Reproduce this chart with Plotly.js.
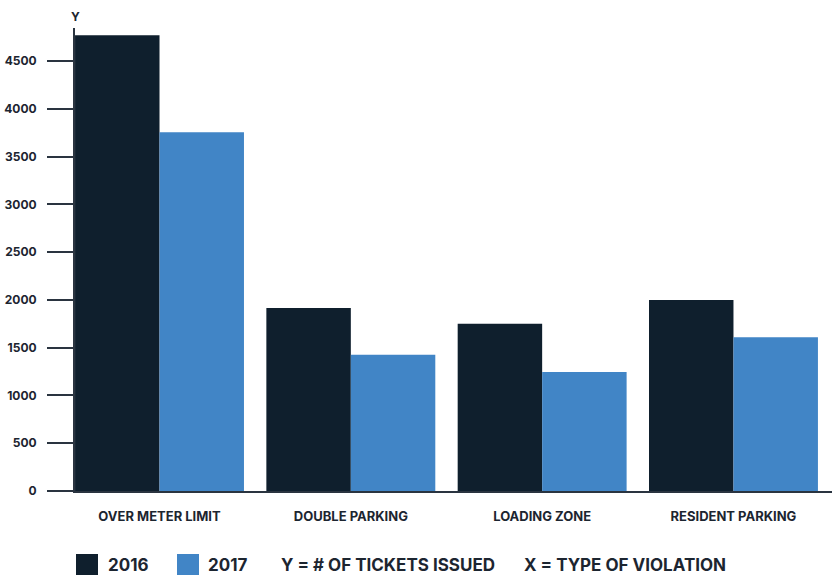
<!DOCTYPE html>
<html>
<head>
<meta charset="utf-8">
<script src="https://cdn.plot.ly/plotly-3.0.1.min.js"></script>
<style>html,body{margin:0;padding:0;background:#fff;}#chart{width:840px;height:575px;}</style>
</head>
<body>
<div id="chart"></div>
<script>
const categories = ["OVER METER LIMIT", "DOUBLE PARKING", "LOADING ZONE", "RESIDENT PARKING"];
const values2016 = [4770, 1915, 1750, 2000];
const values2017 = [3755, 1425, 1245, 1610];
const seriesNames = ["2016", "2017"];
const yTicks = [0, 500, 1000, 1500, 2000, 2500, 3000, 3500, 4000, 4500];
const yTitle = "Y";
const legendNotes = ["Y = # OF TICKETS ISSUED", "X = TYPE OF VIOLATION"];

const dark = "#0f1f2d", blue = "#4185c6", textCol = "#1c2530";
const FONT = "Inter, 'Open Sans', sans-serif";

const data = [
  {type: "bar", name: seriesNames[0], x: categories, y: values2016, marker: {color: dark}, hoverinfo: "x+y"},
  {type: "bar", name: seriesNames[1], x: categories, y: values2017, marker: {color: blue}, hoverinfo: "x+y"}
];

function px2x(px){ return (px - 75) / 757; }
function py2y(py){ return (491 - py) / 463; }

const layout = {
  width: 840, height: 575,
  margin: {l: 75, r: 8, t: 28, b: 84},
  paper_bgcolor: "#fff", plot_bgcolor: "#fff",
  barmode: "group", bargap: 0.117, bargroupgap: 0,
  showlegend: false,
  font: {family: FONT, color: textCol, weight: 700},
  xaxis: {
    range: [-0.4417, 3.515], showgrid: false, zeroline: false,
    showline: true, linecolor: "#2a3440", linewidth: 2,
    ticks: "", ticklabelstandoff: 12,
    tickfont: {size: 13, family: FONT, color: textCol, weight: 700}
  },
  yaxis: {
    range: [0, 4845], showgrid: false, zeroline: false,
    showline: true, linecolor: "#2a3440", linewidth: 2,
    ticks: "outside", ticklen: 26, tickwidth: 2, tickcolor: "#2a3440",
    tickvals: yTicks, ticktext: yTicks.map(String), ticklabelstandoff: 8,
    tickfont: {size: 12, family: FONT, color: textCol, weight: 700}
  },
  shapes: [
    {type: "rect", xref: "paper", yref: "paper", x0: px2x(76), x1: px2x(98), y0: py2y(577), y1: py2y(554), fillcolor: dark, line: {width: 0}},
    {type: "rect", xref: "paper", yref: "paper", x0: px2x(177), x1: px2x(199), y0: py2y(577), y1: py2y(554), fillcolor: blue, line: {width: 0}}
  ],
  annotations: [
    {text: yTitle, xref: "paper", yref: "paper", x: 0, y: py2y(16), xanchor: "center", yanchor: "middle", showarrow: false, font: {size: 12, family: FONT, color: textCol, weight: 700}},
    {text: seriesNames[0], xref: "paper", yref: "paper", x: px2x(106), y: py2y(565), xanchor: "left", yanchor: "middle", showarrow: false, font: {size: 17, family: FONT, color: textCol, weight: 700}},
    {text: seriesNames[1], xref: "paper", yref: "paper", x: px2x(206), y: py2y(565), xanchor: "left", yanchor: "middle", showarrow: false, font: {size: 17, family: FONT, color: textCol, weight: 700}},
    {text: legendNotes[0], xref: "paper", yref: "paper", x: px2x(279), y: py2y(565), xanchor: "left", yanchor: "middle", showarrow: false, font: {size: 17, family: FONT, color: textCol, weight: 700}},
    {text: legendNotes[1], xref: "paper", yref: "paper", x: px2x(522), y: py2y(565), xanchor: "left", yanchor: "middle", showarrow: false, font: {size: 17, family: FONT, color: textCol, weight: 700}}
  ]
};

Plotly.newPlot("chart", data, layout, {displayModeBar: false, staticPlot: true});
</script>
</body>
</html>
